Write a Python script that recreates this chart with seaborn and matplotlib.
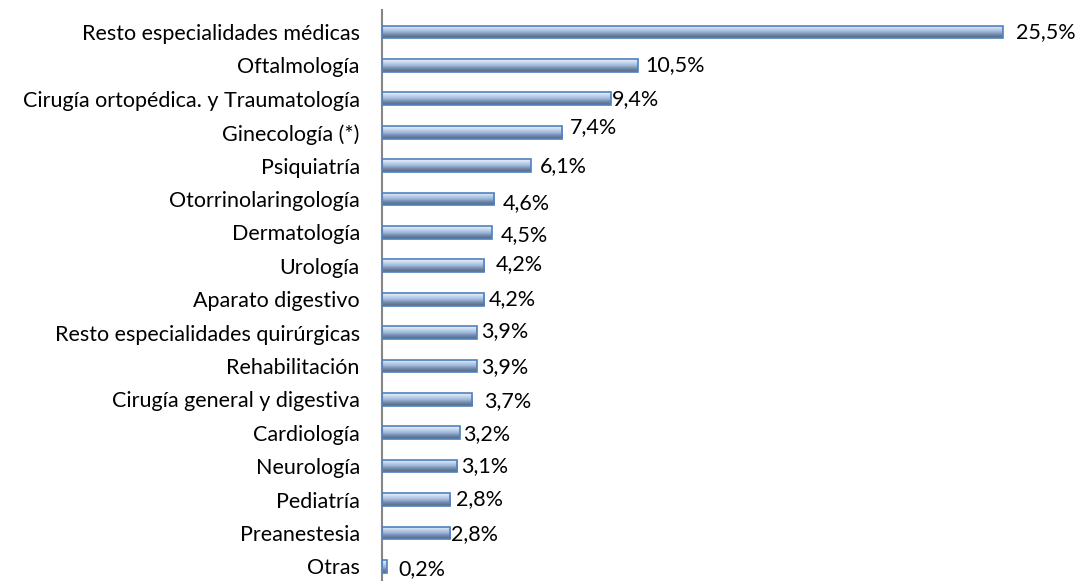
import numpy as np
import pandas as pd
import matplotlib
matplotlib.use("Agg")
import matplotlib.pyplot as plt
from matplotlib.colors import LinearSegmentedColormap
import seaborn as sns

categories = ["Resto especialidades médicas", "Oftalmología",
              "Cirugía ortopédica. y Traumatología", "Ginecología (*)",
              "Psiquiatría", "Otorrinolaringología", "Dermatología", "Urología",
              "Aparato digestivo", "Resto especialidades quirúrgicas",
              "Rehabilitación", "Cirugía general y digestiva", "Cardiología",
              "Neurología", "Pediatría", "Preanestesia", "Otras"]
values = [25.5, 10.5, 9.4, 7.4, 6.1, 4.6, 4.5, 4.2, 4.2, 3.9, 3.9, 3.7,
          3.2, 3.1, 2.8, 2.8, 0.2]
labels = ["25,5%", "10,5%", "9,4%", "7,4%", "6,1%", "4,6%", "4,5%", "4,2%",
          "4,2%", "3,9%", "3,9%", "3,7%", "3,2%", "3,1%", "2,8%", "2,8%", "0,2%"]
# label offsets in pixels (dx, dy) as seen in the reference
label_dx = [13, 8, 1, 8, 9, 9, 9, 11, 4, 4, 4, 12, 3, 4, 6, 1, 12]
label_dy = [0, 0, 0, 5, 0, -4, -3, 2, 0, 1, -1, -2, -1, 0, 0, -1, -3]

sns.set_theme(style="white")
plt.rcParams['font.family'] = ['Lato', 'DejaVu Sans']

df = pd.DataFrame({"cat": categories, "val": values})

fig = plt.figure(figsize=(10.78, 5.81), dpi=100)
ax = fig.add_axes([382 / 1078, 0, 1 - 382 / 1078, 1])

sns.barplot(data=df, y="cat", x="val", orient="h", ax=ax, width=0.38,
            color="#b9cde5", edgecolor="#4f81bd", linewidth=1.2, zorder=2)

cmap = LinearSegmentedColormap.from_list(
    "g", ["#eef3fa", "#c6d7ee", "#9fb8da", "#6f86a6", "#55677f"])
grad = np.linspace(0, 1, 64).reshape(-1, 1)
for p in ax.patches:
    x0, y0 = p.get_x(), p.get_y()
    w, h = p.get_width(), p.get_height()
    im = ax.imshow(grad, cmap=cmap, aspect="auto",
                   extent=[x0, x0 + w, y0 + h, y0], zorder=2.5,
                   interpolation="bicubic")
    im.set_clip_path(p)
    p.set_facecolor("none")
    p.set_zorder(3)

ax.set_xlim(0, (1078 - 382) / 24.35)
ax.set_ylim(16.44, -0.96)

for i, (v, lab) in enumerate(zip(values, labels)):
    ax.annotate(lab, xy=(v, i), xytext=(label_dx[i] * 0.72, label_dy[i] * 0.72),
                textcoords="offset points", ha="left", va="center",
                fontsize=15.5, color="#000000")

ax.set_xlabel("")
ax.set_ylabel("")
ax.set_xticks([])
ax.tick_params(axis="y", length=0, pad=16, labelsize=15.5, labelcolor="#000000")
for s in ["top", "right", "bottom"]:
    ax.spines[s].set_visible(False)
ax.spines["left"].set_color("#868686")
ax.spines["left"].set_linewidth(1.5)
ax.spines["left"].set_bounds(16.44, -0.66)

fig.savefig("out.png", dpi=100)
